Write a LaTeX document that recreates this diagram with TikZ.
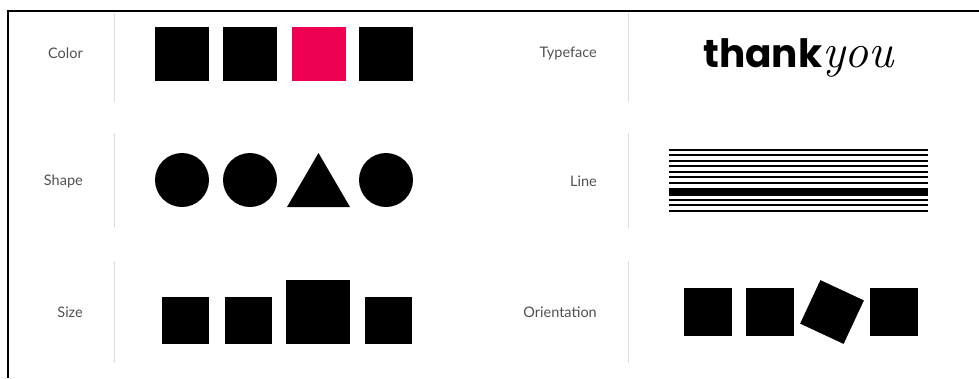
\documentclass[tikz,border=0pt]{standalone}
\usepackage{fontspec}
\setmainfont{Lato}
\newfontfamily\labfont{Lato}
\newfontfamily\thankfont{Poppins}
\usetikzlibrary{shapes.geometric}
\definecolor{pinkred}{RGB}{238,0,82}
\definecolor{labgrey}{RGB}{80,80,80}
\definecolor{sepgrey}{RGB}{222,222,222}
\tikzset{
  lab/.style={font=\labfont\fontsize{14.5}{16}\selectfont, text=labgrey, anchor=east, inner sep=0pt},
  sep/.style={draw=sepgrey, line width=1pt},
  sq/.style={fill=black, draw=none, minimum size=#1, inner sep=0pt, outer sep=0pt},
  dot/.style={circle, fill=black, draw=none, minimum size=54pt, inner sep=0pt},
  frame/.style={line width=2pt, black},
  thin/.style={line width=2.3pt, black},
  thick/.style={line width=7.7pt, black}
}
\begin{document}
\begin{tikzpicture}[x=1pt, y=-1pt]
\useasboundingbox (0,0) rectangle (979,378);
% frame
\coordinate (fTL) at (8,11);
\coordinate (fTR) at (979,11);
\coordinate (fBL) at (8,378);
\draw[frame] (fTR) -- (fTL) -- (fBL);
% separators
\foreach \xx/\nm in {114/L, 628/R}{
  \coordinate (s1a\nm) at (\xx,13);  \coordinate (s1b\nm) at (\xx,102);
  \coordinate (s2a\nm) at (\xx,133); \coordinate (s2b\nm) at (\xx,228);
  \coordinate (s3a\nm) at (\xx,261); \coordinate (s3b\nm) at (\xx,363);
  \draw[sep] (s1a\nm) -- (s1b\nm);
  \draw[sep] (s2a\nm) -- (s2b\nm);
  \draw[sep] (s3a\nm) -- (s3b\nm);
}
% labels
\node[lab] (lColor) at (83,53) {Color};
\node[lab] (lShape) at (83,181) {Shape};
\node[lab] (lSize) at (83,312) {Size};
\node[lab] (lType) at (597,53) {Typeface};
\node[lab] (lLine) at (597,181) {Line};
\node[lab] (lOri) at (597,312) {Orientation};
% color row
\node[sq=54pt] (c1) at (182,53.5) {};
\node[sq=54pt] (c2) at (250,53.5) {};
\node[sq=54pt, fill=pinkred] (c3) at (318.5,53.5) {};
\node[sq=54pt] (c4) at (386,53.5) {};
% shape row
\node[dot] (d1) at (182,180) {};
\node[dot] (d2) at (250,180) {};
\coordinate (t1) at (287,207);
\coordinate (t2) at (350,207);
\coordinate (t3) at (318.5,153);
\fill[black] (t1) -- (t2) -- (t3) -- cycle;
\node[dot] (d4) at (386,180) {};
% size row
\node[sq=47pt] (z1) at (185.5,320.5) {};
\node[sq=47pt] (z2) at (248,320.5) {};
\node[sq=64pt] (z3) at (318,312) {};
\node[sq=47pt] (z4) at (388,320.5) {};
% typeface
\node[anchor=base west, inner sep=0pt] (ty) at (703,67)
  {{\thankfont\bfseries\fontsize{39}{40}\selectfont thank}{\fontspec{Latin Modern Roman}\itshape\fontsize{48}{48}\selectfont you}};
% lines
\foreach \yy [count=\i] in {149.7,155,160.7,166.3,172,177.3,183,200,205.3,211}{
  \coordinate (la\i) at (669,\yy); \coordinate (lb\i) at (928,\yy);
  \draw[thin] (la\i) -- (lb\i);
}
\coordinate (lta) at (669,191.8); \coordinate (ltb) at (928,191.8);
\draw[thick] (lta) -- (ltb);
% orientation row
\node[sq=48pt] (o1) at (708,312) {};
\node[sq=48pt] (o2) at (770,312) {};
\node[sq=48pt, rotate=-25] (o3) at (832,312) {};
\node[sq=48pt] (o4) at (894,312) {};
\end{tikzpicture}
\end{document}
